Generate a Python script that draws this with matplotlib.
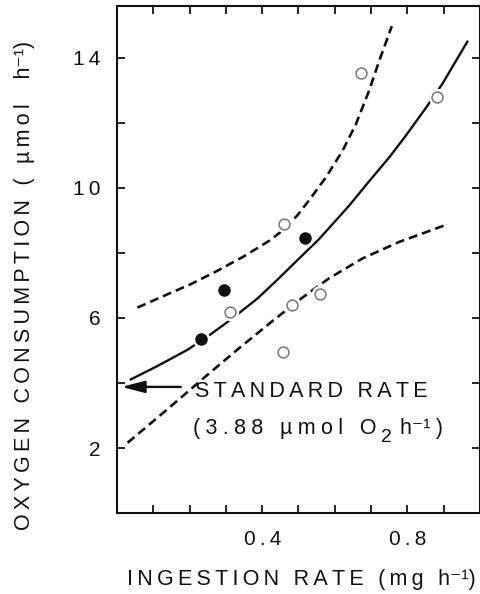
import matplotlib
matplotlib.use("Agg")
import matplotlib.pyplot as plt

plt.rcParams['font.family'] = ['Liberation Sans', 'DejaVu Sans']

# the original has very wide letter spacing, fake it with narrow spaces
TS = '\u2009'   # thin space
FS = '\u2005'   # four-per-em space

def spaced(s, sep=TS):
    return sep.join(s)

open_x = [0.311, 0.456, 0.461, 0.482, 0.558, 0.671, 0.881]
open_y = [6.19, 4.96, 8.90, 6.40, 6.73, 13.55, 12.80]
filled_x = [0.231, 0.296, 0.518]
filled_y = [5.34, 6.86, 8.45]

# fitted curve and the two dashed bands
fit_x = [0.038, 0.111, 0.194, 0.258, 0.295, 0.336, 0.387, 0.442, 0.497, 0.556,
         0.639, 0.694, 0.749, 0.795, 0.850, 0.896, 0.965]
fit_y = [4.11, 4.52, 5.02, 5.50, 5.80, 6.15, 6.60, 7.18, 7.78, 8.42,
         9.45, 10.20, 10.93, 11.60, 12.45, 13.20, 14.50]
upper_x = [0.056, 0.129, 0.203, 0.276, 0.350, 0.423, 0.463, 0.497, 0.529, 0.575,
           0.621, 0.658, 0.694, 0.722, 0.757]
upper_y = [6.32, 6.68, 7.04, 7.45, 7.90, 8.40, 8.76, 9.16, 9.62, 10.32,
           11.14, 11.96, 12.98, 13.90, 14.98]
lower_x = [0.029, 0.111, 0.171, 0.249, 0.331, 0.423, 0.456, 0.510, 0.584, 0.676,
           0.777, 0.910]
lower_y = [2.16, 2.93, 3.50, 4.25, 5.02, 5.86, 6.15, 6.62, 7.22, 7.83,
           8.34, 8.88]

STANDARD_RATE = 3.88

x_ticks = [0.1, 0.2, 0.3, 0.4, 0.5, 0.6, 0.7, 0.8, 0.9]
x_ticklabels = ['', '', '', '0.4', '', '', '', '0.8', '']
y_ticks = [2, 4, 6, 8, 10, 12, 14]
y_ticklabels = ['2', '', '6', '', '10', '', '14']

fig = plt.figure(figsize=(4.81, 5.94), dpi=100)
ax = fig.add_axes([117/481, 1 - 513/594, (480 - 117)/481, (513 - 6)/594])

ink = '#111111'
dash = (3.4, 1.9)

ax.plot(fit_x, fit_y, color=ink, lw=1.7, zorder=2)
ax.plot(upper_x, upper_y, color=ink, lw=1.9, dashes=dash, zorder=2)
ax.plot(lower_x, lower_y, color=ink, lw=1.9, dashes=dash, zorder=2)

# white halo round the symbols, the lines stop short of them
ax.plot(open_x + filled_x, open_y + filled_y, 'o', ms=11.5, color='white', zorder=3)
ax.plot(open_x, open_y, 'o', ms=7.8, mfc='white', mec='#777777', mew=1.1, zorder=4)
ax.plot(filled_x, filled_y, 'o', ms=8, color=ink, zorder=4)

ax.annotate('', xy=(0.012, STANDARD_RATE), xytext=(0.176, STANDARD_RATE),
            arrowprops=dict(arrowstyle='-|>,head_length=0.7,head_width=0.18',
                            color=ink, lw=1.7, mutation_scale=20,
                            shrinkA=0, shrinkB=0))

txt = dict(fontsize=15.5, color=ink, va='baseline')
ax.text(0.215, 3.58, spaced('STANDARD RATE'), **txt)
t1 = ax.text(0.209, 2.44, spaced('(3.88 µmol O', FS), **txt)
# subscript 2 and the rest, chained onto the end of the previous piece
t2 = ax.annotate('2', xy=(1, 0), xycoords=t1, xytext=(3, -2.5),
                 textcoords='offset points', fontsize=14, color=ink, va='baseline')
ax.annotate('h⁻¹' + FS + ')', xy=(1, 0), xycoords=t2, xytext=(6.5, 8.8),
            textcoords='offset points', **txt)

ax.set_xlim(0, 1.0)
ax.set_ylim(0, 15.6)
ax.set_xticks(x_ticks, [spaced(t) for t in x_ticklabels])
ax.set_yticks(y_ticks, [spaced(t) for t in y_ticklabels])
ax.tick_params(direction='in', length=6, width=1.3, top=True, right=True,
               labelsize=15, colors=ink, pad=12)
for s in ax.spines.values():
    s.set_linewidth(1.5)
    s.set_color(ink)

fig.text(301/481, 1 - 580/594, spaced('INGESTION RATE (mg h') + '⁻¹)',
         fontsize=15.5, color=ink, ha='center', va='center')
fig.text(25/481, 1 - 285/594, spaced('OXYGEN CONSUMPTION ( µmol  h') + '⁻¹)',
         fontsize=15.5, color=ink, ha='center', va='center', rotation=90)

fig.savefig('out.png', dpi=100)
